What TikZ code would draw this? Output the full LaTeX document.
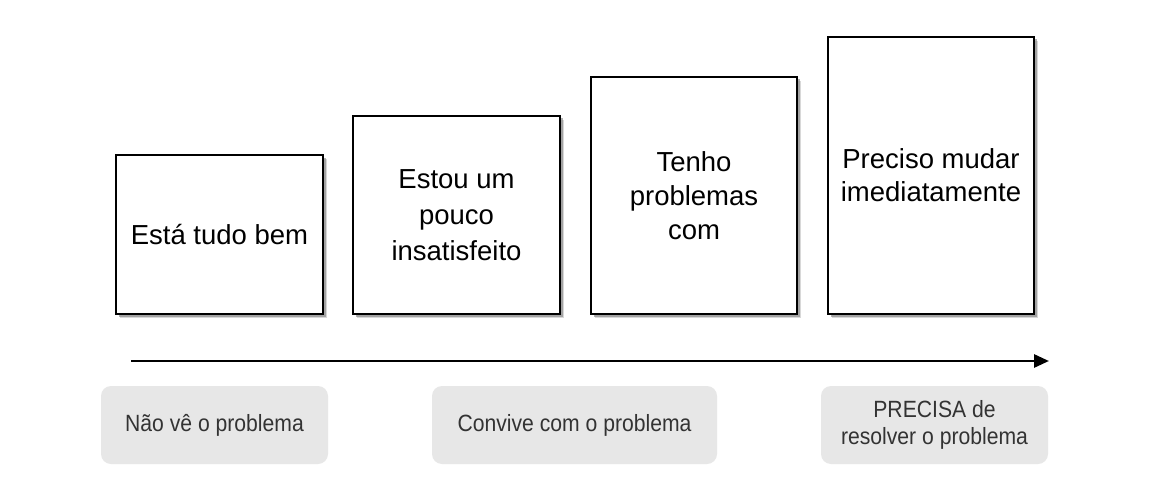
\documentclass[tikz,border=0pt]{standalone}
\usepackage{fontspec}
\setmainfont{Liberation Sans}
\newfontfamily\boxfont{Liberation Sans}
\newfontfamily\labfont[FakeStretch=0.9]{Liberation Sans}
\usetikzlibrary{arrows.meta,shadows}
\definecolor{labfill}{HTML}{E7E7E7}
\definecolor{labtext}{HTML}{333333}
\tikzset{
  stagebox/.style={draw=black, line width=1.4pt, fill=white, align=center,
    inner sep=0pt, font={\boxfont\fontsize{27.5pt}{34pt}\selectfont},
    drop shadow={shadow xshift=4pt, shadow yshift=-4pt, fill=black!30, opacity=0.5},
    drop shadow={shadow xshift=2.5pt, shadow yshift=-2.5pt, fill=black!50, opacity=0.6}},
  labbox/.style={fill=labfill, rounded corners=10pt, align=center, inner sep=0pt,
    text=labtext, font={\labfont\fontsize{23.5pt}{27pt}\selectfont}},
  timeline/.style={line width=2.8pt, -{Triangle[length=15pt,width=13pt]}}
}
\begin{document}
\begin{tikzpicture}[x=1pt,y=-1pt]
\useasboundingbox (0,0) rectangle (1150,500);
\fill[white] (0,0) rectangle (1150,500);
\node[stagebox, minimum width=207pt, minimum height=159pt] (b1) at (219.5,234.5) {Está tudo bem};
\node[stagebox, minimum width=207pt, minimum height=198pt, font={\boxfont\fontsize{27.5pt}{36pt}\selectfont}] (b2) at (456.5,215) {Estou um\\pouco\\insatisfeito};
\node[stagebox, minimum width=206pt, minimum height=237pt] (b3) at (694,195.5) {Tenho\\problemas\\com};
\node[stagebox, minimum width=206pt, minimum height=277pt, font={\boxfont\fontsize{27.5pt}{33pt}\selectfont}] (b4) at (931,175.5) {Preciso mudar\\imediatamente};
\coordinate (as) at (131,361);
\coordinate (ae) at (1049,361);
\draw[timeline] (as) -- (ae);
\node[labbox, minimum width=227pt, minimum height=78pt] (l1) at (214.5,425) {Não vê o problema};
\node[labbox, minimum width=285pt, minimum height=78pt] (l2) at (574.5,425) {Convive com o problema};
\node[labbox, minimum width=227pt, minimum height=78pt] (l3) at (934.5,425) {PRECISA de\\resolver o problema};
\end{tikzpicture}
\end{document}
